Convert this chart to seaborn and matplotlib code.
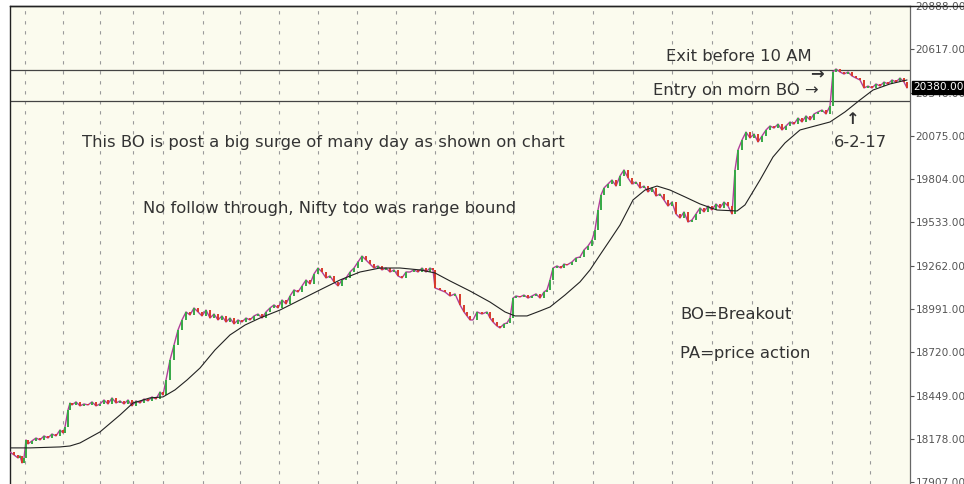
import numpy as np
import pandas as pd
import matplotlib
matplotlib.use("Agg")
import matplotlib.pyplot as plt
from matplotlib.lines import Line2D
import seaborn as sns

# -------------------------------------------------
# Data (bar position, price)
# -------------------------------------------------
price_bar = [10, 14, 18, 20, 22, 24, 26, 28, 32, 36, 40, 44, 48, 52, 56, 60, 63, 65,
             68, 70, 72, 76, 80, 84, 88, 92, 96, 100, 104, 108, 112, 116, 120, 124,
             128, 132, 136, 140, 144, 148, 152, 156, 160, 163, 166, 170, 174, 178,
             182, 186, 190, 194, 198, 202, 206, 210, 214, 218, 222, 226, 230, 234,
             238, 242, 246, 250, 254, 258, 262, 266, 270, 274, 278, 282, 286, 290,
             294, 298, 302, 306, 310, 314, 318, 322, 326, 330, 334, 338, 342, 346,
             350, 354, 358, 362, 366, 370, 374, 378, 382, 386, 390, 394, 398, 402,
             406, 410, 414, 418, 422, 426, 430, 433, 435, 440, 445, 450, 455, 460,
             464, 467, 470, 473, 477, 482, 487, 490, 493, 497, 500, 504, 507, 510,
             513, 516, 520, 524, 528, 532, 536, 540, 544, 547, 550, 553, 557, 561,
             564, 567, 572, 576, 580, 584, 588, 592, 595, 598, 601, 604, 608, 612,
             616, 620, 624, 628, 632, 636, 640, 644, 648, 652, 656, 660, 664, 668,
             672, 676, 680, 684, 688, 692, 696, 700, 704, 708, 712, 716, 720, 724,
             728, 732, 735, 738, 742, 746, 750, 754, 758, 762, 766, 770, 774, 778,
             782, 786, 790, 794, 798, 802, 806, 810, 814, 818, 822, 826, 830, 833,
             836, 840, 844, 848, 852, 856, 860, 864, 868, 872, 876, 880, 884, 888,
             892, 896, 900, 904, 907]
price = [18096, 18078, 18059, 18072, 18028, 18059, 18172, 18147, 18166, 18184, 18172,
         18197, 18184, 18209, 18197, 18234, 18216, 18253,
         18360, 18403, 18391, 18410, 18385, 18397, 18391, 18410, 18385, 18397, 18422,
         18397, 18435, 18403, 18416, 18397, 18422, 18385, 18416, 18403, 18428, 18416,
         18441, 18428, 18472, 18453, 18547, 18672, 18766, 18860,
         18923, 18973, 18954, 18998, 18973, 18948, 18985, 18935, 18960, 18923, 18948,
         18910, 18935, 18898, 18923, 18910, 18935, 18923, 18948, 18960, 18935, 18973,
         18998, 19017, 18998, 19048, 19023, 19073, 19111, 19098, 19136, 19173, 19148,
         19211, 19248, 19223, 19186, 19198, 19161, 19136, 19173, 19186, 19223, 19248,
         19286, 19323, 19298, 19273, 19248, 19261, 19236, 19248, 19223, 19236, 19198,
         19186, 19223, 19223, 19236, 19223, 19248, 19223, 19248, 19236, 19123, 19111,
         19098, 19073, 19086, 19017, 18973, 18948, 18923, 18923, 18973, 18960, 18973,
         18935, 18910, 18885, 18873, 18898, 18904, 18935,
         19060, 19073, 19067, 19079, 19060, 19073, 19086, 19060, 19098, 19111, 19173,
         19248, 19261, 19248, 19273, 19267, 19286, 19311, 19317, 19361, 19386, 19423,
         19486, 19611, 19705, 19749, 19774, 19799, 19761, 19824, 19862, 19812, 19774,
         19786, 19749, 19761, 19724, 19749, 19699, 19711, 19674, 19636, 19661, 19586,
         19561, 19599, 19536, 19549, 19586, 19624, 19599, 19636, 19611, 19649, 19624,
         19661, 19636, 19586, 19862, 19987, 20049, 20099, 20062, 20087, 20037, 20074,
         20112, 20137, 20124, 20149, 20112, 20137, 20162, 20149, 20187, 20162, 20200,
         20175, 20212, 20225, 20237, 20212, 20262, 20475, 20494, 20475, 20462, 20475,
         20450, 20437, 20425, 20375, 20387, 20375, 20400, 20387, 20412, 20400, 20425,
         20412, 20437, 20412, 20375]

ma_bar = [10, 30, 60, 70, 80, 100, 120, 133, 150, 163, 175, 187, 200, 215, 230, 245,
          260, 280, 300, 320, 340, 360, 380, 400, 420, 435, 450, 470, 490, 505, 515,
          527, 540, 550, 565, 580, 590, 600, 610, 620, 633, 645, 657, 670, 685, 700,
          717, 737, 745, 760, 773, 785, 800, 815, 830, 845, 860, 873, 890, 907]
ma = [18122, 18122, 18128, 18134, 18153, 18222, 18328, 18403, 18435, 18441, 18485,
      18547, 18622, 18735, 18829, 18891, 18935, 18985, 19048, 19111, 19173, 19223,
      19248, 19248, 19236, 19217, 19167, 19104, 19035, 18973, 18948, 18948, 18979,
      19004, 19079, 19161, 19236, 19330, 19423, 19517, 19674, 19736, 19761, 19736,
      19693, 19649, 19611, 19605, 19643, 19799, 19943, 20031, 20112, 20137, 20162,
      20225, 20300, 20362, 20400, 20425]

grid_bars = [25, 63, 100, 133, 163, 203, 240, 279, 318, 357, 396, 435, 473, 513,
             553, 593, 633, 672, 712, 752, 792, 832, 870]
level_exit = 20487
level_entry = 20293
last_price = 20380
y_ticks = [17907, 18178, 18449, 18720, 18991, 19262, 19533, 19804, 20075, 20346,
           20617, 20888]

# -------------------------------------------------
# Plot Settings
# -------------------------------------------------
sns.set_theme(style="white")
plt.rcParams["font.family"] = ["DejaVu Sans"]

bg = "#fbfbee"
txt = "#333333"
fs = 11.8

fig = plt.figure(figsize=(9.64, 4.84), dpi=100, facecolor="white")
ax = fig.add_axes([10 / 964, 0, 900 / 964, 478 / 484])
ax.set_facecolor(bg)

df = pd.DataFrame({"bar": price_bar, "price": price})
ma_df = pd.DataFrame({"bar": ma_bar, "ma": ma})

# day separators
for g in grid_bars:
    ax.axvline(g, color="#9a9a9a", lw=0.8, dashes=(3, 6), zorder=1)

# price path and candle bodies
sns.lineplot(data=df, x="bar", y="price", ax=ax, color="#b0409a", lw=1.0,
             zorder=3, estimator=None, sort=False)
prev = df["price"].shift(1).fillna(df["price"])
up = df["price"] >= prev
ax.vlines(df["bar"][up], prev[up], df["price"][up], color="#35a845", lw=1.4, zorder=4)
ax.vlines(df["bar"][~up], prev[~up], df["price"][~up], color="#d83a2a", lw=1.4, zorder=4)

sns.lineplot(data=ma_df, x="bar", y="ma", ax=ax, color="#222222", lw=0.8,
             zorder=5, estimator=None, sort=False)

# horizontal levels
ax.axhline(level_exit, color="#444444", lw=0.9, zorder=2)
ax.axhline(level_entry, color="#444444", lw=0.9, zorder=2)

ax.set_xlim(10, 910)
ax.set_ylim(17896, 20888)
ax.set_xlabel("")
ax.set_ylabel("")
ax.set_xticks([])

# right price scale
ax.yaxis.tick_right()
ax.set_yticks(y_ticks)
ax.set_yticklabels([f"{v:.2f}" for v in y_ticks])
ax.tick_params(axis="y", direction="out", length=3, width=0.8, pad=1,
               labelsize=7.6, colors="#555555", right=True, left=False)
for s in ["left", "top"]:
    ax.spines[s].set_color("#222222")
    ax.spines[s].set_linewidth(1.0)
ax.spines["right"].set_color("#666666")
ax.spines["right"].set_linewidth(0.9)
ax.spines["bottom"].set_visible(False)

fig.add_artist(Line2D([10 / 964, 1], [478 / 484, 478 / 484], color="#222222", lw=1.0))

ax.text(1.004, last_price, f"{last_price:.2f}", transform=ax.get_yaxis_transform(),
        ha="left", va="center", fontsize=7.6, color="white", clip_on=False,
        bbox=dict(boxstyle="square,pad=0.15", fc="black", ec="black"), zorder=10)

# annotations
ax.text(739, 20570, "Exit before 10 AM", ha="center", va="center", fontsize=fs, color=txt)
ax.text(736, 20360, "Entry on morn BO \u2192", ha="center", va="center", fontsize=fs, color=txt)
ax.text(817, 20458, "\u2192", ha="center", va="center", fontsize=fs, color=txt,
        fontweight="bold")
ax.text(853, 20178, "\u2191", ha="center", va="center", fontsize=fs, color=txt,
        fontweight="bold")
ax.text(860, 20031, "6-2-17", ha="center", va="center", fontsize=fs, color=txt)
ax.text(323, 20031, "This BO is post a big surge of many day as shown on chart",
        ha="center", va="center", fontsize=fs, color=txt)
ax.text(330, 19618, "No follow through, Nifty too was range bound",
        ha="center", va="center", fontsize=fs, color=txt)
ax.text(680, 18960, "BO=Breakout", ha="left", va="center", fontsize=fs, color=txt)
ax.text(680, 18710, "PA=price action", ha="left", va="center", fontsize=fs, color=txt)

plt.savefig("out.png", dpi=100, facecolor=fig.get_facecolor())
